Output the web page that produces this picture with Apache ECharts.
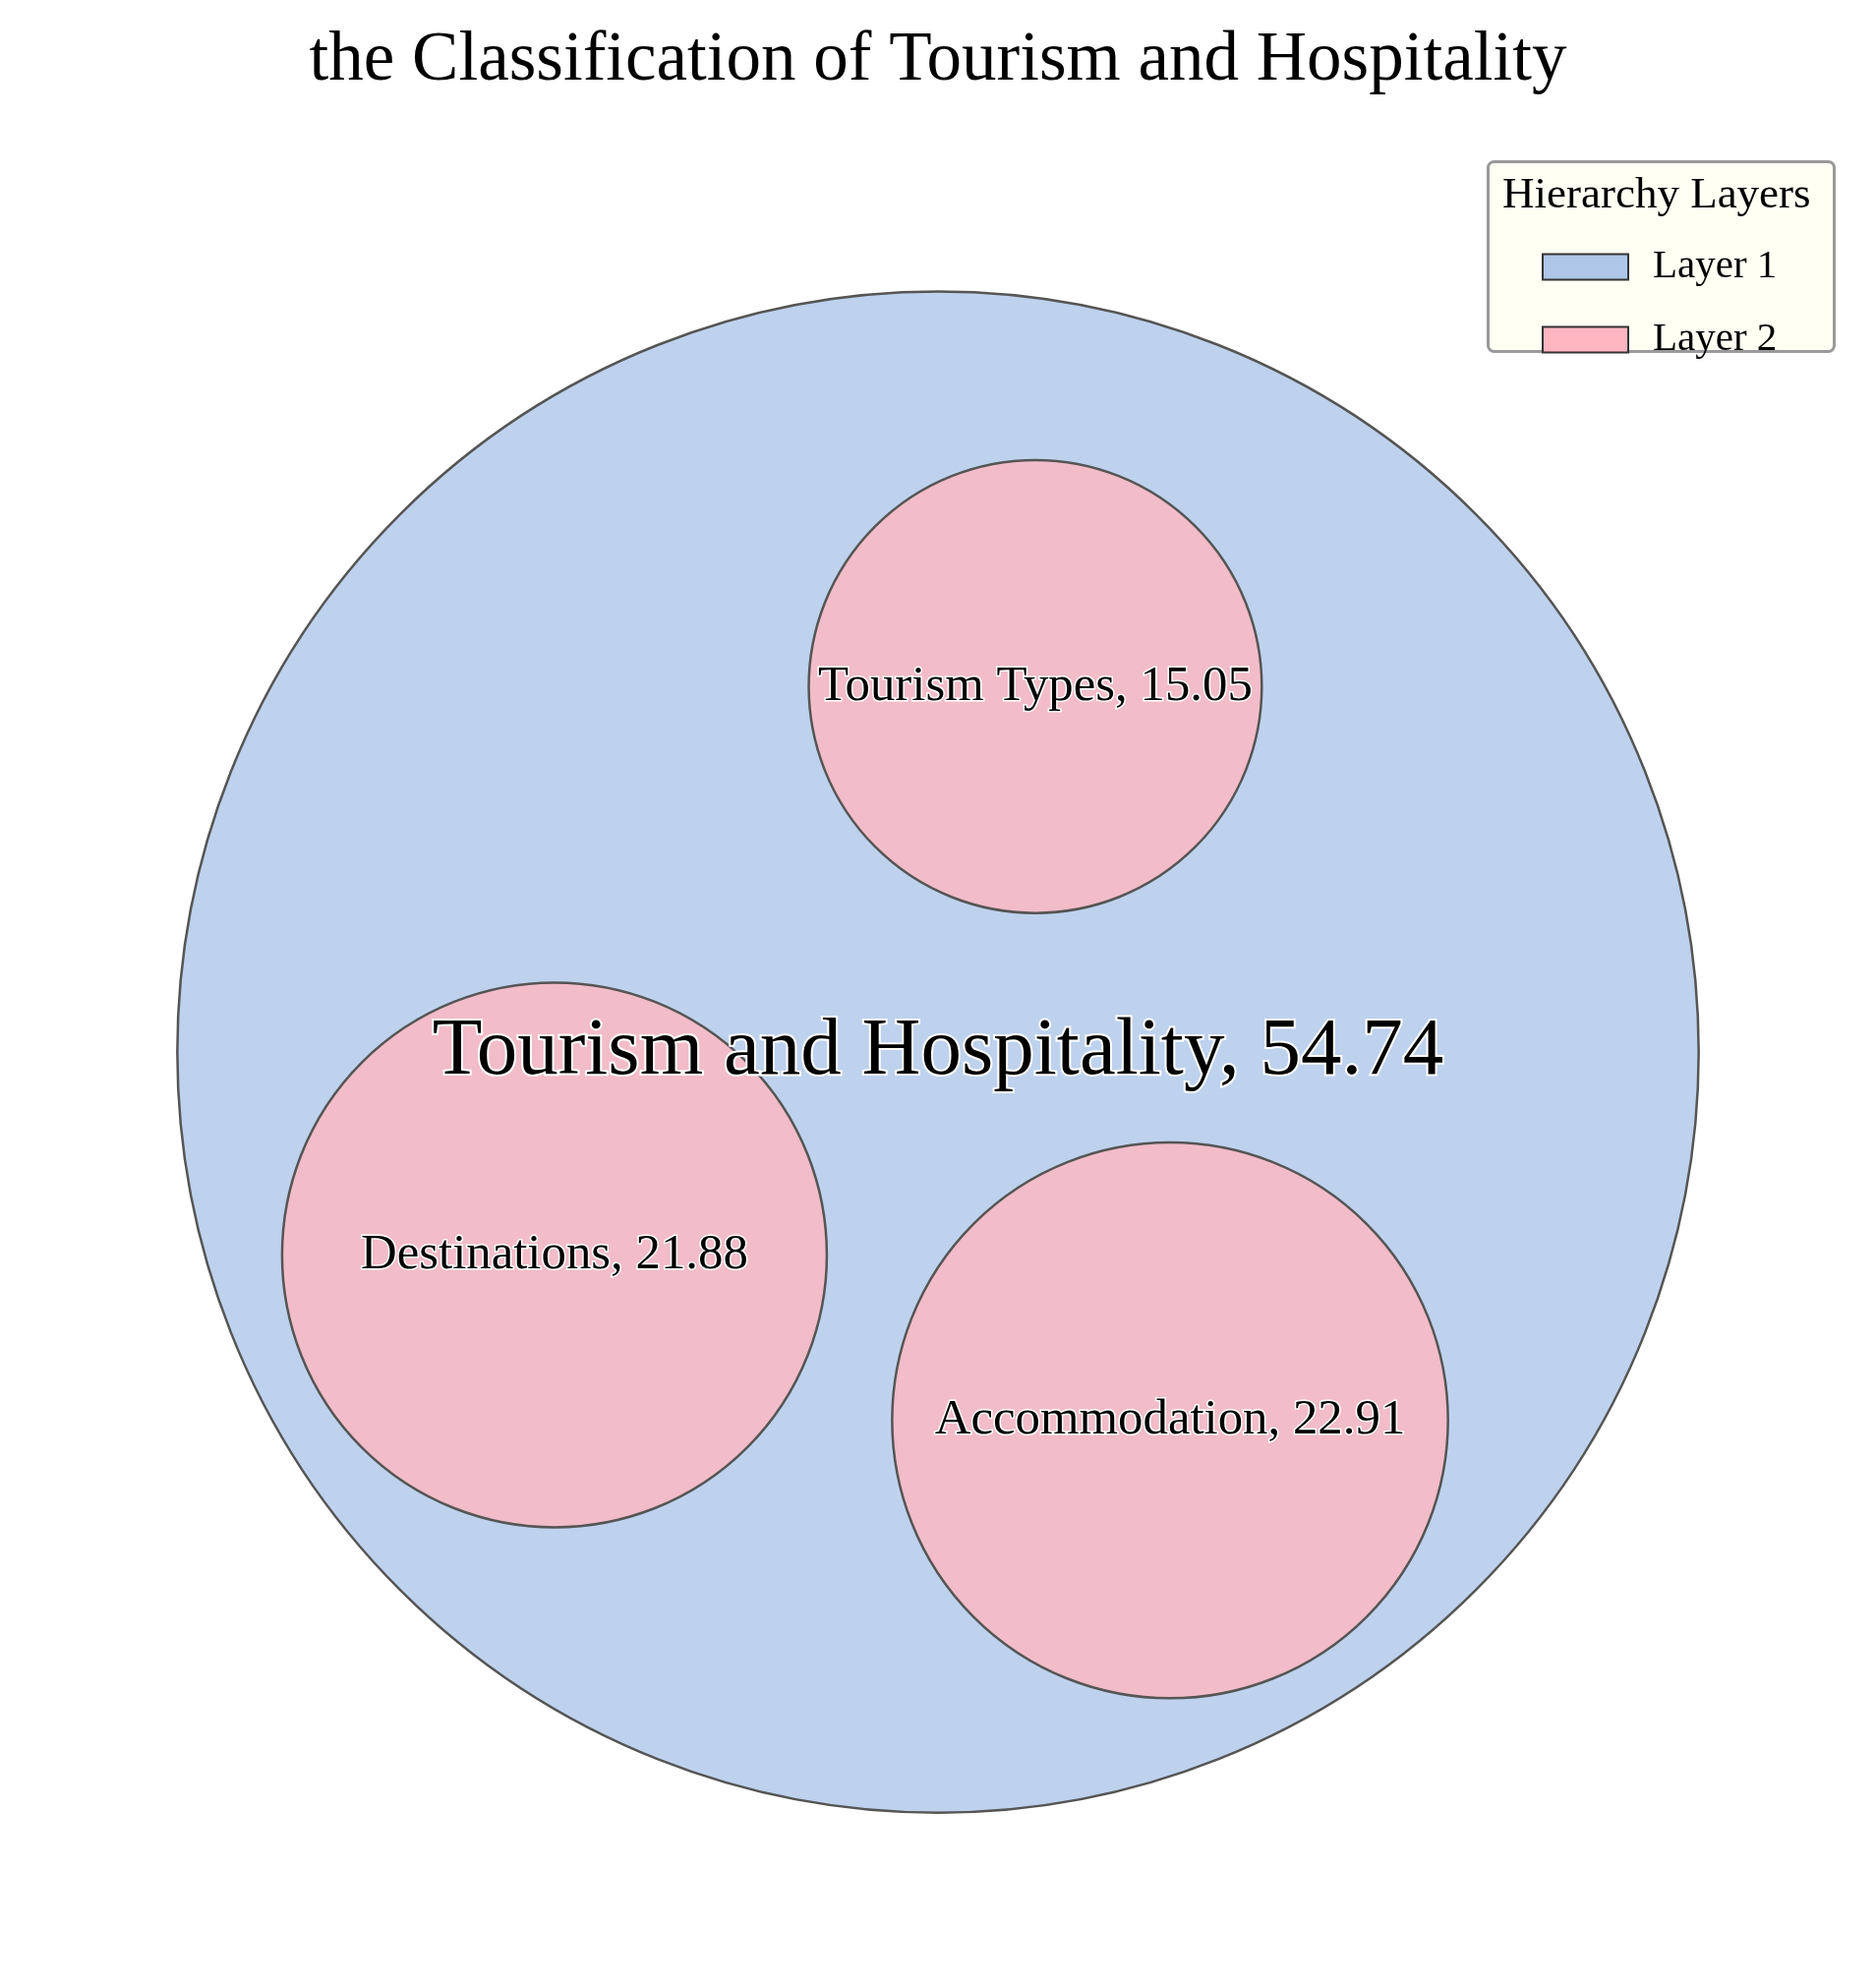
<!DOCTYPE html>
<html>
<head>
<meta charset="utf-8">
<script src="https://cdn.jsdelivr.net/npm/echarts@6/dist/echarts.min.js"></script>
<style>html,body{margin:0;padding:0;background:#fff}#chart{width:1908px;height:2020px}</style>
</head>
<body>
<div id="chart"></div>
<script>
// circle packing, data units (outer circle centred on origin)
const names = ['Tourism and Hospitality', 'Tourism Types', 'Destinations', 'Accommodation'];
const values = [54.74, 15.05, 21.88, 22.91];
const layers = [1, 2, 2, 2];
const centerX = [0, 7.0, -27.6, 16.7];
const centerY = [0, 26.3, -14.6, -26.5];
const radii = [54.74, 16.3, 19.6, 20.0];

const FONT = '"Liberation Serif", "DejaVu Serif", serif';
const layerFill = { 1: 'rgba(174,199,232,0.8)', 2: 'rgba(255,182,193,0.8)' };
const layerSwatch = { 1: '#aec7e8', 2: '#ffb6c1' };

const chart = echarts.init(document.getElementById('chart'));

const nodes = names.map((n, i) => ({ name: n, value: [centerX[i], centerY[i], radii[i], values[i], layers[i]] }));

function circleSeries(layer) {
  return {
    name: 'Layer ' + layer,
    type: 'custom',
    coordinateSystem: 'cartesian2d',
    itemStyle: { color: layerSwatch[layer], borderColor: '#333', borderWidth: 2.5 },
    z: layer,
    renderItem(params, api) {
      const c = api.coord([api.value(0), api.value(1)]);
      const r = api.size([api.value(2), 0])[0];
      return { type: 'circle', shape: { cx: c[0], cy: c[1], r },
        style: { fill: layerFill[layer], stroke: '#555', lineWidth: 2.5 } };
    },
    data: nodes.filter((d, i) => layers[i] === layer)
  };
}

const labelSeries = {
  name: 'labels',
  type: 'custom',
  coordinateSystem: 'cartesian2d',
  z: 10,
  silent: true,
  renderItem(params, api) {
    const c = api.coord([api.value(0), api.value(1)]);
    const d = nodes[params.dataIndex];
    const top = d.value[4] === 1;
    return { type: 'text',
      style: { x: c[0], y: c[1], text: d.name + ', ' + d.value[3].toFixed(2),
        align: 'center', verticalAlign: 'middle', fill: '#000',
        font: (top ? 83 : 41 * 1.24) + 'px ' + FONT,
        stroke: '#fff', lineWidth: top ? 4 : 3 } };
  },
  data: nodes
};

chart.setOption({
  animation: false,
  title: { text: 'the Classification of Tourism and Hospitality', left: 'center', top: 22,
    textStyle: { fontFamily: FONT, fontWeight: 'normal', fontSize: 71, color: '#000' } },
  grid: { left: 0, right: 0, top: 0, bottom: 0 },
  xAxis: { type: 'value', min: -67.5, max: 67.5, show: false },
  yAxis: { type: 'value', min: -67.2, max: 75.7, show: false },
  legend: {
    data: ['Layer 1', 'Layer 2'], orient: 'vertical', left: 1563, top: 246, z: 110,
    itemWidth: 87, itemHeight: 26, itemGap: 33, icon: 'rect',
    textStyle: { fontFamily: FONT, fontSize: 41, color: '#000', padding: [0, 0, 0, 20] },
    selectedMode: false
  },
  graphic: [
    { type: 'rect', left: 1512, top: 163, z: 100, silent: true,
      shape: { width: 352, height: 193, r: 6 },
      style: { fill: 'rgba(255,255,240,0.8)', stroke: '#999', lineWidth: 3 } },
    { type: 'text', left: 1528, top: 177, z: 101,
      style: { text: 'Hierarchy Layers', font: '45px ' + FONT, fill: '#000' } }
  ],
  series: [circleSeries(1), circleSeries(2), labelSeries]
});
</script>
</body>
</html>
